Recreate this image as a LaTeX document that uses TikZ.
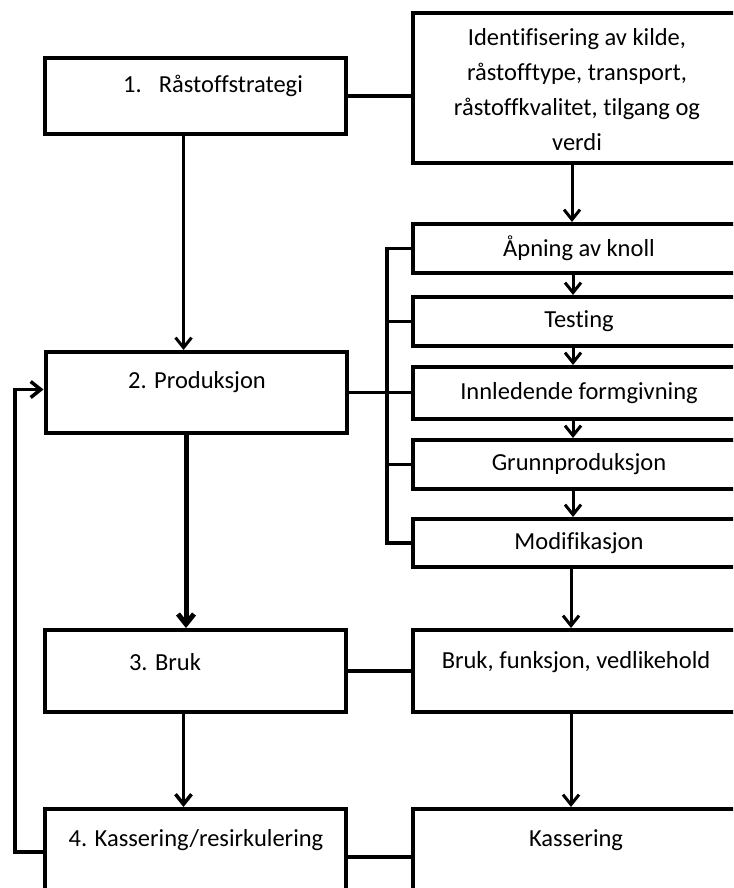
\documentclass[tikz,border=0pt]{standalone}
\usepackage{fontspec}
\setmainfont{Carlito}[Ligatures=NoCommon]
\usetikzlibrary{arrows.meta}

\tikzset{
  boks/.style={draw, line width=4pt, minimum width=301pt, inner sep=0pt},
  hboks/.style={draw, line width=4pt, minimum width=332pt, inner sep=0pt},
  tekst/.style={font=\fontsize{24.5}{35}\selectfont, align=center, inner sep=0pt},
  linje/.style={line width=3.5pt},
  pil/.style={line width=3pt, -{Straight Barb[length=10pt,width=16pt]}},
}

\begin{document}
\begin{tikzpicture}[x=1pt, y=-1pt]
        \useasboundingbox (0,0) rectangle (733,888);
        \clip (0,0) rectangle (733,888);

        % Venstre kolonne
        \node[boks, minimum height=76pt] (strategi) at (195.5,96) {};
        \node[tekst] (strategitekst) at (213,86) {1.\hspace{0.7em}Råstoffstrategi};
        \node[boks, minimum height=81pt] (produksjon) at (196,392.5) {};
        \node[tekst] (produksjontekst) at (197,382) {2. Produksjon};
        \node[boks, minimum height=82pt] (bruk) at (195.5,671) {};
        \node[tekst] (bruktekst) at (165,662) {3. Bruk};
        \node[boks, minimum height=86pt] (resirk) at (195.5,852) {};
        \node[tekst] (resirktekst) at (196,840) {4. Kassering/resirkulering};

        % Hoyre kolonne
        \node[hboks, minimum height=150pt] (identifisering) at (579,88) {};
        \node[tekst] (identifiseringtekst) at (577,90) {Identifisering av kilde,\\ råstofftype, transport,\\ råstoffkvalitet, tilgang og\\ verdi};
        \node[hboks, minimum height=49pt, tekst] (aapning) at (579,248.5) {Åpning av knoll};
        \node[hboks, minimum height=49pt, tekst] (testing) at (579,321.5) {Testing};
        \node[hboks, minimum height=52pt, tekst] (formgivning) at (579,393) {Innledende formgivning};
        \node[hboks, minimum height=49pt, tekst] (grunnprod) at (579,464.5) {Grunnproduksjon};
        \node[hboks, minimum height=48pt, tekst] (modifikasjon) at (579,543) {Modifikasjon};
        \node[hboks, minimum height=82pt] (vedlikehold) at (579,671) {};
        \node[tekst] (vedlikeholdtekst) at (576,662) {Bruk, funksjon, vedlikehold};
        \node[hboks, minimum height=86pt] (kassering) at (579,852) {};
        \node[tekst] (kasseringtekst) at (576,840) {Kassering};

        % Piler nedover
        \draw[pil] ([xshift=-12pt]strategi.south) -- ([xshift=-12pt]strategi.south |- produksjon.north);
        \draw[pil, line width=5pt] ([xshift=-10pt]produksjon.south) -- ([xshift=-10pt]produksjon.south |- bruk.north);
        \draw[pil, line width=3.5pt] ([xshift=-12pt]bruk.south) -- ([xshift=-12pt]bruk.south |- resirk.north);
        \draw[pil] ([xshift=-7pt]identifisering.south) -- ([xshift=-7pt]identifisering.south |- aapning.north);
        \draw[pil] ([xshift=-6pt]aapning.south) -- ([xshift=-6pt]aapning.south |- testing.north);
        \draw[pil] ([xshift=-6pt]testing.south) -- ([xshift=-6pt]testing.south |- formgivning.north);
        \draw[pil] ([xshift=-6pt]formgivning.south) -- ([xshift=-6pt]formgivning.south |- grunnprod.north);
        \draw[pil] ([xshift=-6pt]grunnprod.south) -- ([xshift=-6pt]grunnprod.south |- modifikasjon.north);
        \draw[pil] ([xshift=-8pt]modifikasjon.south) -- ([xshift=-8pt]modifikasjon.south |- vedlikehold.north);
        \draw[pil] ([xshift=-8pt]vedlikehold.south) -- ([xshift=-8pt]vedlikehold.south |- kassering.north);

        % Tverrlinjer
        \draw[linje] (strategi.east) -- (strategi.east -| identifisering.west);
        \draw[linje] (produksjon.east) -- (produksjon.east -| formgivning.west);
        \draw[linje] (bruk.east) -- (bruk.east -| vedlikehold.west);
        \draw[linje] ([yshift=-5pt]resirk.east) -- ([yshift=-5pt]resirk.east -| kassering.west);

        % Klamme for produksjonstrinnene
        \coordinate (klamme) at (387,0);
        \draw[linje] (aapning.west) -- (aapning.west -| klamme) -- (modifikasjon.west -| klamme) -- (modifikasjon.west);
        \draw[linje] (testing.west) -- (testing.west -| klamme);
        \draw[linje] (grunnprod.west) -- (grunnprod.west -| klamme);

        % Tilbake til produksjon
        \coordinate (retur) at (15,0);
        \draw[pil, line width=3.5pt] (resirk.west) -- (resirk.west -| retur) -- ([yshift=3pt]produksjon.west -| retur) -- ([yshift=3pt]produksjon.west);
      \end{tikzpicture}
\end{document}
